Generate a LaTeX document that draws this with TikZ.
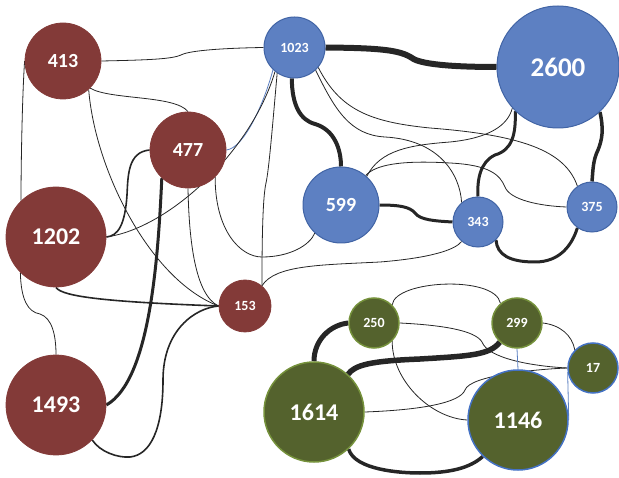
\documentclass[tikz,border=0pt]{standalone}
\usepackage{fontspec}
\setmainfont{Carlito}
\usetikzlibrary{backgrounds}
\definecolor{nred}{RGB}{131,58,56}
\definecolor{nblue}{RGB}{93,128,194}
\definecolor{bblue}{RGB}{65,100,165}
\definecolor{ngreen}{RGB}{84,98,45}
\definecolor{bgreen}{RGB}{118,146,60}
\definecolor{bblue2}{RGB}{68,114,196}
\definecolor{edgec}{RGB}{38,38,38}
\definecolor{eblue}{RGB}{91,127,193}
\begin{document}
\begin{tikzpicture}[x=1pt,y=-1pt,
  nd/.style={circle,inner sep=0pt,text=white},
  rednode/.style={nd,fill=nred,draw=nred,line width=0.8pt},
  bluenode/.style={nd,fill=nblue,draw=bblue,line width=1pt},
  greennode/.style={nd,fill=ngreen,draw=bgreen,line width=1.5pt},
  greenbnode/.style={nd,fill=ngreen,draw=bblue2,line width=1.5pt},
  fa/.style={font=\fontsize{14}{16}\selectfont\bfseries},
  fb/.style={font=\fontsize{20}{24}\selectfont\bfseries},
  fc/.style={font=\fontsize{24}{28}\selectfont\bfseries},
  fd/.style={font=\fontsize{27}{30}\selectfont\bfseries},
  ethin/.style={draw=edgec,line width=0.8pt},
  emed/.style={draw=edgec,line width=1.6pt},
  ethick/.style={draw=edgec,line width=3pt},
  eheavy/.style={draw=edgec,line width=5pt},
  eblueline/.style={draw=eblue,line width=0.8pt}
]
\useasboundingbox (0,0) rectangle (619,478);
% red cluster
\node[rednode,fb,minimum size=76pt] (n413) at (63,61) {413};
\node[rednode,fb,minimum size=76pt] (n477) at (188,150) {477};
\node[rednode,fc,minimum size=100pt] (n1202) at (56,237) {1202};
\node[rednode,fc,minimum size=100pt] (n1493) at (56,405) {1493};
\node[rednode,fa,minimum size=52pt] (n153) at (245,306) {153};
% blue cluster
\node[bluenode,fa,minimum size=61pt] (n1023) at (294.5,47.5) {1023};
\node[bluenode,fd,minimum size=122pt] (n2600) at (558,67) {2600};
\node[bluenode,fb,minimum size=76pt] (n599) at (341,205) {599};
\node[bluenode,fa,minimum size=50pt] (n343) at (478,222) {343};
\node[bluenode,fa,minimum size=50pt] (n375) at (592,207) {375};
% green cluster
\node[greennode,fa,minimum size=50pt] (n250) at (374,323) {250};
\node[greennode,fa,minimum size=50pt] (n299) at (517,323) {299};
\node[greenbnode,fa,minimum size=50pt] (n17) at (593,368) {17};
\node[greennode,fc,minimum size=100pt] (n1614) at (314,412) {1614};
\node[greenbnode,fc,minimum size=100pt] (n1146) at (518,420) {1146};

\begin{scope}[on background layer]
% red cluster edges
\draw[ethin] (n413.east) .. controls (150,60) and (172,59) .. (181,55) .. controls (190,50) and (230,48) .. (n1023.west);
\draw[ethin] (n413.-45) .. controls (110,100) and (175,95) .. (n477.north);
\draw[ethin] (n413.-48) .. controls (95,170) and (150,280) .. (n153.west);
\draw[ethin] (n413.west) .. controls (22,100) and (21,170) .. (n1202.134);
\draw[ethin] (n1202.225) .. controls (21,300) and (28,312) .. (40,314) .. controls (52,318) and (56,335) .. (n1493.north);
\draw[emed] (n477.west) .. controls (128,152) and (128,175) .. (127,195) .. controls (125,225) and (118,236) .. (n1202.east);
\draw[ethick] (n477.227) .. controls (158,260) and (150,380) .. (n1493.east);
\draw[eblueline] (n477.east) .. controls (245,148) and (265,100) .. (n1023.226);
\draw[ethin] (n1202.east) .. controls (170,228) and (252,150) .. (n1023.231);
\draw[ethin] (n477.south) .. controls (189,240) and (195,295) .. (n153.west);
\draw[ethin] (n477.-45) .. controls (215,230) and (240,257) .. (262,257) .. controls (290,257) and (310,245) .. (n599.227);
\draw[ethin] (n1023.236) .. controls (273,120) and (269,170) .. (266,183) .. controls (262,200) and (262,260) .. (n153.50);
\draw[ethin] (n153.50) .. controls (275,265) and (320,265) .. (380,262) .. controls (430,258) and (455,250) .. (n343.230);
\draw[emed] (n1202.south) .. controls (62,297) and (110,302) .. (n153.west);
\draw[emed] (n1493.-44) .. controls (100,452) and (118,458) .. (130,457) .. controls (150,455) and (163,430) .. (163,380) .. controls (163,330) and (195,308) .. (n153.west);
% blue cluster edges
\draw[draw=edgec,line width=6pt] (n1023.east) .. controls (380,48) and (400,50) .. (412,58) .. controls (420,64) and (450,67) .. (n2600.west);
\draw[draw=edgec,line width=4pt] (n1023.-95) .. controls (292,105) and (300,120) .. (315,124) .. controls (335,130) and (341,150) .. (n599.north);
\draw[ethin] (n1023.-47) .. controls (335,110) and (350,135) .. (385,137) .. controls (440,140) and (460,175) .. (n343.130);
\draw[ethin] (n1023.-40) .. controls (340,110) and (370,122) .. (430,128) .. controls (520,135) and (565,150) .. (n375.125);
\draw[ethick] (n599.east) .. controls (400,205) and (410,207) .. (415,213) .. controls (420,220) and (435,221) .. (n343.west);
\draw[ethin] (n599.48) .. controls (380,150) and (410,145) .. (450,142) .. controls (490,138) and (508,125) .. (n2600.222);
\draw[ethin] (n599.50) .. controls (375,165) and (400,160) .. (450,163) .. controls (490,165) and (500,175) .. (505,187) .. controls (510,200) and (540,206) .. (n375.west);
\draw[ethick] (n2600.226) .. controls (516,135) and (512,150) .. (495,155) .. controls (480,162) and (477,180) .. (n343.north);
\draw[draw=edgec,line width=3.5pt] (n2600.-47) .. controls (604,130) and (602,140) .. (598,150) .. controls (593,160) and (593,170) .. (n375.north);
\draw[ethick] (n343.-45) .. controls (497,255) and (510,262) .. (535,262) .. controls (560,262) and (572,245) .. (n375.235);
% green cluster edges
\draw[ethin] (n250.45) .. controls (395,280) and (495,275) .. (n299.130);
\draw[eheavy] (n250.west) .. controls (330,325) and (314,340) .. (n1614.north);
\draw[ethin] (n250.east) .. controls (440,325) and (475,330) .. (482,342) .. controls (488,358) and (530,366) .. (n17.west);
\draw[ethin] (n250.-45) .. controls (392,380) and (430,418) .. (n1146.west);
\draw[draw=edgec,line width=5.5pt] (n299.228) .. controls (490,355) and (470,356) .. (420,359) .. controls (370,361) and (355,365) .. (n1614.48);
\draw[ethin] (n299.east) .. controls (560,325) and (572,335) .. (n17.135);
\draw[eblueline] (n299.south) -- (n1146.north);
\draw[eblueline] (n17.190) -- (n1146.east);
\draw[ethin] (n1614.east) .. controls (420,410) and (460,403) .. (465,390) .. controls (470,375) and (540,369) .. (n17.west);
\draw[draw=edgec,line width=3.5pt] (n1614.-47) .. controls (355,470) and (400,473) .. (420,473) .. controls (450,473) and (470,468) .. (n1146.226);
\end{scope}
\end{tikzpicture}
\end{document}
